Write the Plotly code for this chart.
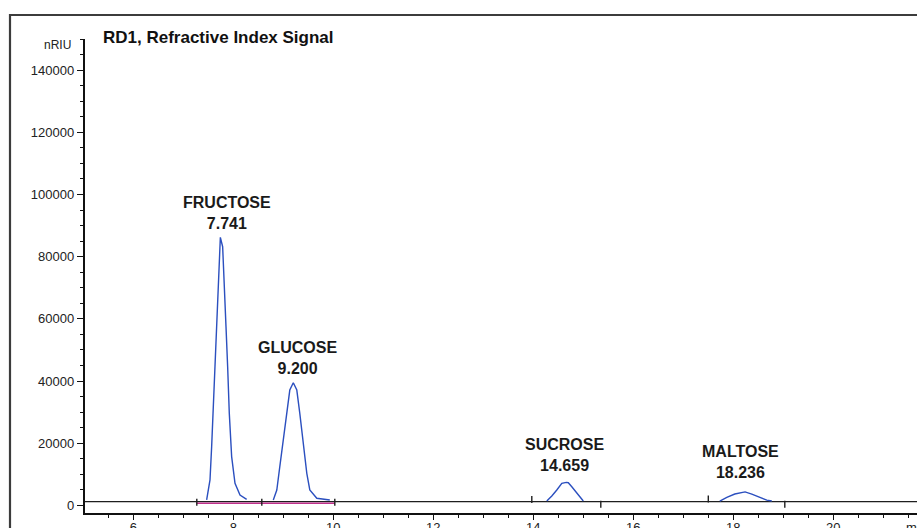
import plotly.graph_objects as go

# ---------------- data ----------------
fructose_time = [7.467, 7.534, 7.567, 7.600, 7.634, 7.667, 7.700, 7.734, 7.741, 7.787, 7.814,
                 7.854, 7.887, 7.920, 7.967, 8.034, 8.134, 8.267]
fructose_signal = [1740, 8170, 18900, 31700, 48900, 61800, 75700, 85300, 86200, 83200, 74600,
                   57500, 44600, 29600, 15700, 7100, 3340, 1960]

glucose_time = [8.80, 8.87, 8.93, 9.00, 9.07, 9.13, 9.20, 9.27, 9.33, 9.40, 9.47, 9.53, 9.67, 9.93]
glucose_signal = [1740, 4950, 12450, 21000, 29600, 37100, 39450, 37100, 29600, 18900, 10300,
                  4950, 2280, 1740]

sucrose_time = [14.27, 14.37, 14.47, 14.57, 14.659, 14.70, 14.77, 14.87, 15.00]
sucrose_signal = [1400, 3000, 4950, 7100, 7400, 7300, 6000, 3900, 1400]

maltose_time = [17.73, 17.87, 18.03, 18.19, 18.236, 18.37, 18.53, 18.67, 18.77]
maltose_signal = [1400, 2600, 3650, 4300, 4350, 3650, 2600, 1700, 1400]

baseline_time = [5.034, 21.674]
baseline_signal = [1200, 1200]

integration_time = [7.27, 10.03]
integration_signal = [700, 700]

event_time = [7.27, 8.57, 10.03, 13.97, 15.35, 17.50, 19.03]
event_signal = [1000, 1000, 1000, 1900, 350, 2050, 350]

peak_names = ["FRUCTOSE", "GLUCOSE", "SUCROSE", "MALTOSE"]
peak_rt = [7.741, 9.200, 14.659, 18.236]
peak_apex = [86200, 39450, 7400, 4350]

y_tick_values = [0, 20000, 40000, 60000, 80000, 100000, 120000, 140000]
x_tick_values = [6, 8, 10, 12, 14, 16, 18, 20]

title_text = "RD1, Refractive Index Signal"
y_unit = "nRIU"
x_unit = "min"

# ---------------- styling ----------------
W, H = 917, 528
ML, MR, MT, MB = 85, 0, 39, 15
PW, PH = W - ML - MR, H - MT - MB
FONT = "Liberation Sans, Arial, sans-serif"
BLUE = "#2b4fbf"
label_xshift = [6.6, 4.2, -2.0, -5.0]
label_yshift = [24.3, 24.4, 27.7, 29.5]


def px_to_paper_x(px):
    return (px - ML) / PW


def px_to_paper_y(py):
    return (H - MB - py) / PH


fig = go.Figure()

fig.add_trace(go.Scatter(x=baseline_time, y=baseline_signal, mode="lines",
                         line=dict(color="#1e1e1e", width=1.3), hoverinfo="skip"))
fig.add_trace(go.Scatter(x=integration_time, y=integration_signal, mode="lines",
                         line=dict(color="#c0308c", width=1.6), hoverinfo="skip"))
for t, s in [(fructose_time, fructose_signal), (glucose_time, glucose_signal),
             (sucrose_time, sucrose_signal), (maltose_time, maltose_signal)]:
    fig.add_trace(go.Scatter(x=t, y=s, mode="lines", line=dict(color=BLUE, width=1.4),
                             hoverinfo="skip"))
fig.add_trace(go.Scatter(x=event_time, y=event_signal, mode="markers",
                         marker=dict(symbol="line-ns", size=5,
                                     line=dict(color="#1e1e1e", width=1.4)),
                         hoverinfo="skip"))

annotations = []
for name, rt, apex, dx, dy in zip(peak_names, peak_rt, peak_apex, label_xshift, label_yshift):
    annotations.append(dict(x=rt, y=apex, xref="x", yref="y",
                            text=f"<b>{name}<br>{rt:.3f}</b>", showarrow=False,
                            xanchor="center", yanchor="middle", xshift=dx, yshift=dy,
                            font=dict(family=FONT, size=16, color="#1a1a1a")))
annotations.append(dict(x=px_to_paper_x(101), y=px_to_paper_y(38), xref="paper", yref="paper",
                        text=f"<b>{title_text}</b>", showarrow=False, xanchor="left",
                        yanchor="middle", font=dict(family=FONT, size=17, color="#111")))
annotations.append(dict(x=px_to_paper_x(73), y=px_to_paper_y(45), xref="paper", yref="paper",
                        text=y_unit, showarrow=False, xanchor="right", yanchor="middle",
                        font=dict(family=FONT, size=12, color="#222")))
annotations.append(dict(x=px_to_paper_x(904), y=px_to_paper_y(527), xref="paper", yref="paper",
                        text=x_unit, showarrow=False, xanchor="left", yanchor="middle",
                        font=dict(family=FONT, size=13, color="#222")))

shapes = [dict(type="path", xref="paper", yref="paper",
               path=(f"M {px_to_paper_x(10)} {px_to_paper_y(545)} "
                     f"L {px_to_paper_x(10)} {px_to_paper_y(15)} "
                     f"L {px_to_paper_x(930)} {px_to_paper_y(15)}"),
               line=dict(color="#3c3c3c", width=2.2))]

fig.update_layout(
    width=W, height=H,
    margin=dict(l=ML, r=MR, t=MT, b=MB, pad=0, autoexpand=False),
    paper_bgcolor="white", plot_bgcolor="white",
    showlegend=False,
    annotations=annotations,
    shapes=shapes,
    xaxis=dict(range=[5.034, 21.674], tickvals=x_tick_values, tickformat="d",
               automargin=False, ticklabelstandoff=-3,
               showline=True, linecolor="#111", linewidth=1.5,
               ticks="outside", ticklen=5, tickwidth=1.3, tickcolor="#111",
               minor=dict(dtick=0.5, tick0=0, ticks="outside", ticklen=3,
                          tickwidth=1.2, tickcolor="#111", showgrid=False),
               showgrid=False, zeroline=False,
               tickfont=dict(family=FONT, size=13, color="#222")),
    yaxis=dict(range=[-2450, 150010], tickvals=y_tick_values, tickformat="d",
               automargin=False,
               showline=True, linecolor="#111", linewidth=1.5,
               ticks="outside", ticklen=6.5, tickwidth=1.3, tickcolor="#111",
               minor=dict(dtick=5000, tick0=0, ticks="outside", ticklen=3.5,
                          tickwidth=1.2, tickcolor="#111", showgrid=False),
               showgrid=False, zeroline=False,
               tickfont=dict(family=FONT, size=13, color="#222")),
)

fig.write_html("out.html", config={"displayModeBar": False},
               post_script="document.body.style.margin='0';document.body.style.overflow='hidden';")
